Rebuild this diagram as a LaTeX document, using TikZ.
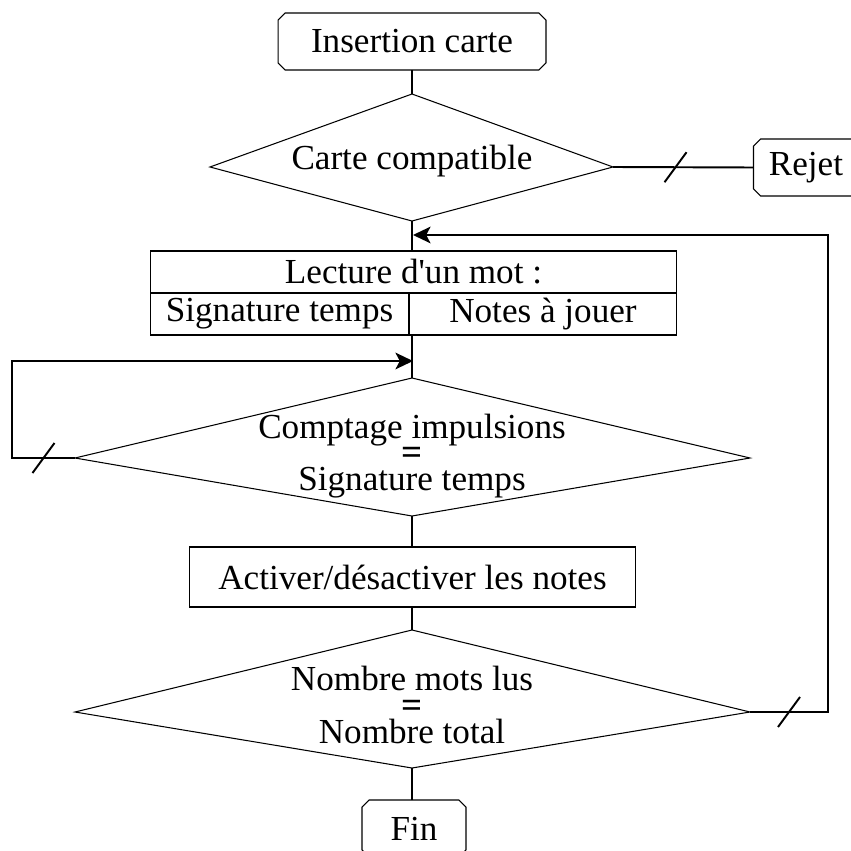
\documentclass[tikz,border=0pt]{standalone}
\usepackage{fontspec}
\setmainfont{Liberation Serif}
\usepackage{tikz}
\usetikzlibrary{arrows.meta}
\usetikzlibrary{calc}
\usetikzlibrary{positioning}
\usetikzlibrary{shapes.misc}

\begin{document}
\begin{tikzpicture}[x=0.02cm, y=-0.02cm,
    every node/.style={font=\fontsize{20}{22}\selectfont, inner sep=0pt, outer sep=0pt},
    term/.style={draw, line width=0.6pt, chamfered rectangle,
      chamfered rectangle xsep=2pt, chamfered rectangle ysep=2pt, minimum height=1.14cm},
    box/.style={draw, line width=0.6pt, minimum height=1.2cm},
    cell/.style={draw, line width=0.6pt, minimum height=0.84cm},
    decision/.style={line width=0.6pt},
    link/.style={line width=1.1pt},
    flow/.style={link, -{Stealth[length=10pt, width=9.5pt, inset=2.5pt]}}]

  % Page frame
  \useasboundingbox (0,0) rectangle (851,851);

  % Start and reject boxes
  \node[term, minimum width=5.36cm] (start) at (412,41.5) {Insertion carte};
  \node[term, minimum width=2.1cm] (rejet) at (806,167.5) {Rejet};

  % First test (card check)
  \coordinate (c1t) at (412,94);
  \coordinate (c1r) at (613,167);
  \coordinate (c1b) at (412,221);
  \coordinate (c1l) at (210,167);
  \draw[decision] (c1t) -- (c1r) -- (c1b) -- (c1l) -- cycle;
  \node (compat) at (412,161) {Carte compatible};

  % Word read: two-row table
  \node[cell, minimum width=10.54cm] (lect) at (413.5,272) {Lecture d\textquotesingle un mot :};
  \node[cell, minimum width=5.18cm, below right=0pt and 0pt of lect.south west] (sig) {Signature temps};
  \node[cell, minimum width=5.36cm, right=0pt of sig] (notes) {Notes à jouer};

  % Second test (pulse count)
  \coordinate (c2t) at (412,378);
  \coordinate (c2r) at (750,458);
  \coordinate (c2b) at (412,516);
  \coordinate (c2l) at (75,458);
  \draw[decision] (c2t) -- (c2r) -- (c2b) -- (c2l) -- cycle;
  \node[align=center] (count) at (412,456)
    {Comptage impulsions\\[-7pt]{\fontsize{21}{21}\selectfont\bfseries =}\\[-7pt]Signature temps};

  % Note switching
  \node[box, minimum width=8.92cm] (act) at (412.5,577) {Activer/désactiver les notes};

  % Third test (word count)
  \coordinate (c3t) at (412,630);
  \coordinate (c3r) at (750,712);
  \coordinate (c3b) at (412,768);
  \coordinate (c3l) at (75,712);
  \draw[decision] (c3t) -- (c3r) -- (c3b) -- (c3l) -- cycle;
  \node[align=center] (total) at (412,705)
    {Nombre mots lus\\[-7pt]{\fontsize{21}{21}\selectfont\bfseries =}\\[-7pt]Nombre total};

  % End box
  \node[term, minimum width=2.08cm] (fin) at (414,828.5) {Fin};

  % Main flow
  \draw[link] (start.south) -- (c1t);
  \draw[link] (c1b) -- (c1b |- lect.north);
  \draw[link] (c1b |- sig.south) -- (c2t);
  \draw[link] (c2b) -- (c2b |- act.north);
  \draw[link] (c2b |- act.south) -- (c3t);
  \draw[link] (c3b) -- (c3b |- fin.north);

  % Reject branch
  \draw[link] (c1r) -- coordinate[pos=0.445] (cut1) (rejet.west);
  \draw[link] ($(cut1)+(-11,15)$) -- ($(cut1)+(11,-15)$);

  % Loop back to the next word
  \coordinate (back1) at (413,235);
  \draw[flow] (c3r) -- coordinate[midway] (cut3) ++(78,0) |- (back1);
  \draw[link] ($(cut3)+(-11,15)$) -- ($(cut3)+(11,-15)$);

  % Loop back while counting
  \coordinate (back2) at (413,361);
  \draw[flow] (c2l) -- coordinate[midway] (cut2) ++(-63,0) |- (back2);
  \draw[link] ($(cut2)+(-11,15)$) -- ($(cut2)+(11,-15)$);
\end{tikzpicture}
\end{document}
